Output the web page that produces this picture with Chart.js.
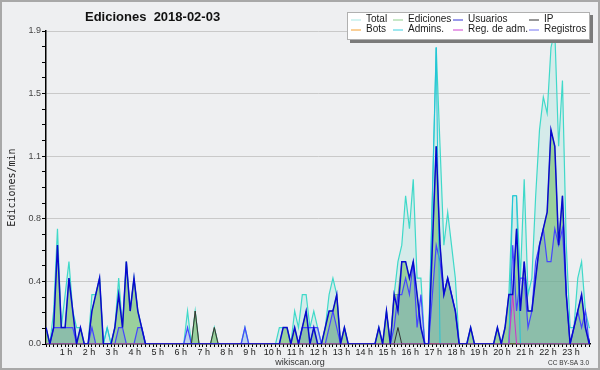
<!DOCTYPE html>
<html lang="es">
<head>
  <meta charset="UTF-8" />
  <title>Ediciones 2018-02-03</title>
  <script src="https://cdn.jsdelivr.net/npm/chart.js"></script>
  <style>
    html, body { margin: 0; padding: 0; background: #eeeff1; }
    #wrap { width: 600px; height: 370px; }
  </style>
</head>
<body>
  <div id="wrap"><canvas id="editsChart" width="600" height="370"></canvas></div>

  <script>
// one value every 10 minutes, 144 per day (edits per minute)
const hourLabels = ['1 h','2 h','3 h','4 h','5 h','6 h','7 h','8 h','9 h','10 h','11 h','12 h',
  '13 h','14 h','15 h','16 h','17 h','18 h','19 h','20 h','21 h','22 h','23 h'];

const totalVals = [
  0.1,0,0.2,0.7,0.1,0.3,   0.5,0.2,0.1,0.1,0,0,     0.3,0.3,0.4,0,0.1,0,     0.1,0.4,0.1,0.5,0.2,0.4,
  0.2,0.1,0,0,0,0,         0,0,0,0,0,0,             0,0.2,0,0.2,0,0,         0,0,0.1,0,0,0,
  0,0,0,0,0.1,0,           0,0,0,0,0,0,             0,0.1,0.1,0.1,0,0.2,     0.1,0.3,0.3,0.1,0.2,0.1,
  0,0.1,0.3,0.4,0.3,0,     0.1,0,0,0,0,0,           0,0,0,0.1,0,0.2,         0,0.3,0.5,0.6,0.9,0.7,
  1.0,0.4,0.4,0,0,0.9,     1.8,1.2,0.6,0.8,0.6,0.4, 0,0,0,0.1,0,0,           0,0,0,0,0.1,0,
  0.1,0.3,0.9,0.9,0.4,1.0, 0.3,0.4,0.9,1.3,1.5,1.4, 1.8,1.9,1.2,1.6,0.6,0.1, 0.1,0.4,0.5,0.2,0.1,0.1
];
const edicionesVals = [
  0.1,0,0.1,0.6,0.1,0.1,   0.4,0.2,0,0.1,0,0,       0.2,0.3,0.4,0,0,0,       0.1,0.3,0.1,0.5,0.2,0.4,
  0.2,0.1,0,0,0,0,         0,0,0,0,0,0,             0,0,0,0.2,0,0,           0,0,0.1,0,0,0,
  0,0,0,0,0,0,             0,0,0,0,0,0,             0,0,0.1,0.1,0,0.1,       0,0.1,0.2,0,0.1,0,
  0,0.1,0.2,0.2,0.3,0,     0.1,0,0,0,0,0,           0,0,0,0.1,0,0.2,         0,0.3,0.3,0.5,0.5,0.4,
  0.5,0.3,0.1,0,0,0.6,     1.2,0.6,0.3,0.4,0.3,0.2, 0,0,0,0.1,0,0,           0,0,0,0,0.1,0,
  0.1,0.3,0.3,0.7,0.2,0.5, 0.2,0.2,0.4,0.6,0.7,0.8, 1.3,1.2,0.6,0.9,0.3,0,   0.1,0.2,0.3,0.1,0,0.1
];
const usuariosVals = [
  0.1,0,0.1,0.6,0.1,0.1,   0.4,0.2,0,0.1,0,0,       0.2,0.3,0.4,0,0,0,       0.1,0.3,0.1,0.5,0.2,0.4,
  0.2,0.1,0,0,0,0,         0,0,0,0,0,0,             0,0,0,0,0,0,             0,0,0,0,0,0,
  0,0,0,0,0,0,             0,0,0,0,0,0,             0,0,0.1,0.1,0,0.1,       0,0.1,0.2,0,0.1,0,
  0,0.1,0.2,0.2,0.3,0,     0.1,0,0,0,0,0,           0,0,0,0.1,0,0.2,         0,0.3,0.2,0.5,0.5,0.4,
  0.5,0.3,0.1,0,0,0.6,     1.2,0.6,0.3,0.4,0.3,0.2, 0,0,0,0.1,0,0,           0,0,0,0,0.1,0,
  0.1,0.3,0.3,0.7,0.2,0.5, 0.2,0.2,0.4,0.6,0.7,0.8, 1.3,1.2,0.6,0.9,0.3,0,   0.1,0.2,0.3,0.1,0,0.1
];
const ipVals = [
  0,0,0,0,0,0, 0,0,0,0,0,0, 0,0,0,0,0,0, 0,0,0,0,0,0,
  0,0,0,0,0,0, 0,0,0,0,0,0, 0,0,0,0.2,0,0, 0,0,0.1,0,0,0,
  0,0,0,0,0,0, 0,0,0,0,0,0, 0,0,0,0,0,0, 0,0,0,0,0,0,
  0,0,0,0,0,0, 0,0,0,0,0,0, 0,0,0,0,0,0, 0,0,0.1,0,0,0,
  0,0,0,0,0,0, 0,0,0,0,0,0, 0,0,0,0,0,0, 0,0,0,0,0,0,
  0,0,0,0,0,0, 0,0,0,0,0,0, 0,0,0,0,0,0, 0,0,0,0,0,0
];
const botsVals = [
  0,0,0,0,0,0, 0,0,0,0,0,0, 0,0,0,0,0,0, 0,0,0,0,0,0,
  0,0,0,0,0,0, 0,0,0,0,0,0, 0,0,0,0,0,0, 0,0,0,0,0,0,
  0,0,0,0,0,0, 0,0,0,0,0,0, 0,0,0,0,0,0, 0,0,0,0,0,0,
  0,0,0,0,0,0, 0,0,0,0,0,0, 0,0,0,0,0,0, 0,0,0,0,0,0,
  0,0,0,0,0,0, 0,0,0,0,0,0, 0,0,0,0,0,0, 0,0,0,0,0,0,
  0,0,0,0,0,0, 0,0,0,0,0,0, 0,0,0,0,0,0, 0,0,0,0,0,0
];
const adminsVals = [
  0,0,0,0,0,0, 0,0,0,0,0,0, 0,0,0,0,0.1,0, 0,0,0,0,0,0,
  0,0,0,0,0,0, 0,0,0,0,0,0, 0,0,0,0,0,0, 0,0,0,0,0,0,
  0,0,0,0,0,0, 0,0,0,0,0,0, 0,0,0,0,0,0, 0,0,0,0,0,0,
  0,0,0,0,0,0, 0,0,0,0,0,0, 0,0,0,0,0,0, 0,0,0,0,0,0,
  0,0,0,0,0,0.9, 1.8,0,0,0,0,0, 0,0,0,0,0,0, 0,0,0,0,0,0,
  0,0,0.9,0.9,0,0, 0,0,0,0,0,0, 0,0,0,0,0,0, 0,0,0,0,0,0
];
const regAdmVals = [
  0,0,0,0,0,0, 0,0,0,0,0,0, 0,0,0,0,0,0, 0,0,0,0,0,0,
  0,0,0,0,0,0, 0,0,0,0,0,0, 0,0,0,0,0,0, 0,0,0,0,0,0,
  0,0,0,0,0,0, 0,0,0,0,0,0, 0,0,0,0,0,0, 0,0,0,0,0,0,
  0,0,0,0,0,0, 0,0,0,0,0,0, 0,0,0,0,0,0, 0,0,0,0,0,0,
  0,0,0,0,0,0, 0,0,0,0,0,0, 0,0,0,0,0,0, 0,0,0,0,0,0,
  0,0,0.3,0,0,0, 0,0,0,0,0,0, 0,0,0,0,0,0, 0,0,0,0,0,0
];
const registrosVals = [
  0,0,0.1,0.1,0.1,0.1,     0.1,0.1,0,0,0,0,         0.1,0,0,0,0,0,           0,0.1,0.1,0,0,0,
  0.1,0.1,0,0,0,0,         0,0,0,0,0,0,             0,0.1,0,0,0,0,           0,0,0,0,0,0,
  0,0,0,0,0.1,0,           0,0,0,0,0,0,             0,0,0,0,0,0,             0,0.1,0.1,0.1,0.1,0.1,
  0,0,0.1,0.2,0.1,0,       0,0,0,0,0,0,             0,0,0,0,0,0,             0,0.1,0.3,0.3,0.4,0.3,
  0.5,0.1,0.3,0,0,0.3,     0.6,0.5,0.3,0.4,0.3,0.2, 0,0,0,0,0,0,             0,0,0,0,0,0,
  0,0,0.6,0.2,0.4,0.4,     0.1,0.2,0.5,0.6,0.7,0.5, 0.5,0.7,0.6,0.7,0.3,0,   0.1,0.2,0.1,0.2,0,0
];

const yMax = 1.9;
const yTickStep = 0.095;   // 4 minor steps between labelled ticks

function pts(vals) {
  return vals.map((v, i) => ({ x: i, y: v }));
}

const legendOrder = ['Total', 'Ediciones', 'Usuarios', 'IP', 'Bots', 'Admins.', 'Reg. de adm.', 'Registros'];
const legendColors = {
  'Total': '#a8e8e4',
  'Ediciones': '#8fd08f',
  'Usuarios': '#3535d5',
  'IP': '#333333',
  'Bots': '#f5a030',
  'Admins.': '#3cd0e0',
  'Reg. de adm.': '#d040d0',
  'Registros': '#7474f4'
};

// background, frame, title, legend and footer texts
const decor = {
  id: 'decor',
  beforeDraw(chart) {
    const c = chart.ctx;
    c.save();
    c.fillStyle = '#eeeff1';
    c.fillRect(0, 0, chart.width, chart.height);
    c.restore();
  },
  afterDraw(chart) {
    const c = chart.ctx;
    c.save();
    c.strokeStyle = '#a8a8a8';
    c.lineWidth = 2;
    c.strokeRect(1, 1, chart.width - 2, chart.height - 2);

    c.fillStyle = '#111';
    c.font = 'bold 13px "Liberation Sans", Arial, sans-serif';
    c.textAlign = 'left';
    c.textBaseline = 'alphabetic';
    c.fillText('Ediciones  2018-02-03', 85, 21);

    // legend box with shadow
    c.fillStyle = '#7a7a7a';
    c.fillRect(350, 15, 243, 28);
    c.fillStyle = '#ffffff';
    c.fillRect(347, 12, 243, 28);
    c.strokeStyle = '#b0b0b0';
    c.lineWidth = 1;
    c.strokeRect(347.5, 12.5, 242, 27);

    const colX = [351, 393, 453, 529];
    const rowY = [19.5, 29.5];
    c.font = '10px "Liberation Sans", Arial, sans-serif';
    c.textBaseline = 'middle';
    legendOrder.forEach((name, k) => {
      const col = k % 4, row = Math.floor(k / 4);
      const x = colX[col], y = rowY[row];
      c.strokeStyle = legendColors[name];
      c.lineWidth = 1;
      c.beginPath();
      c.moveTo(x, y + 0.5);
      c.lineTo(x + 10, y + 0.5);
      c.stroke();
      c.fillStyle = '#1a1a1a';
      c.fillText(name, x + 15, y);
    });

    c.fillStyle = '#333';
    c.font = '9px "Liberation Sans", Arial, sans-serif';
    c.textAlign = 'center';
    c.textBaseline = 'alphabetic';
    c.fillText('wikiscan.org', 300, 365);
    c.font = '6.5px "Liberation Sans", Arial, sans-serif';
    c.textAlign = 'right';
    c.fillText('CC BY-SA 3.0', 589, 365);
    c.restore();
  }
};

const ctx = document.getElementById('editsChart').getContext('2d');
new Chart(ctx, {
  type: 'line',
  data: {
    datasets: [
      { label: 'Usuarios', data: pts(usuariosVals), borderColor: '#0808d0', borderWidth: 1.5, fill: false, order: 2 },
      { label: 'Reg. de adm.', data: pts(regAdmVals), borderColor: '#cc33cc', borderWidth: 1, fill: false, order: 3 },
      { label: 'IP', data: pts(ipVals), borderColor: '#333333', borderWidth: 1, fill: false, order: 4 },
      { label: 'Admins.', data: pts(adminsVals), borderColor: '#22c4d8', borderWidth: 1, fill: false, order: 5 },
      { label: 'Bots', data: pts(botsVals), borderColor: '#f5a030', borderWidth: 1, fill: false, order: 6 },
      { label: 'Registros', data: pts(registrosVals), borderColor: '#4646ff', borderWidth: 1.2,
        backgroundColor: 'rgba(80,110,235,0.18)', fill: 'origin', order: 7 },
      { label: 'Ediciones', data: pts(edicionesVals), borderColor: '#78bc78', borderWidth: 1,
        backgroundColor: 'rgba(118,192,110,0.62)', fill: 'origin', order: 8 },
      { label: 'Total', data: pts(totalVals), borderColor: '#3fd9c9', borderWidth: 1.2,
        backgroundColor: 'rgba(64,210,190,0.14)', fill: 'origin', order: 9 }
    ]
  },
  options: {
    responsive: false,
    animation: false,
    layout: { padding: { left: 0, right: 10, top: 31, bottom: 0 } },
    elements: { point: { radius: 0 }, line: { tension: 0 } },
    plugins: { legend: { display: false }, tooltip: { enabled: false }, title: { display: false } },
    scales: {
      x: {
        type: 'linear',
        min: 0,
        max: 142.2,
        z: 1,
        afterBuildTicks(scale) {
          const t = [];
          for (let k = 0; k <= 142; k++) t.push({ value: k });
          scale.ticks = t;
        },
        afterFit(scale) { scale.height = 26; },
        ticks: {
          autoSkip: false,
          maxRotation: 0,
          padding: 0,
          labelOffset: -3,
          color: '#222',
          font: { family: '"Liberation Sans", Arial, sans-serif', size: 9 },
          callback: (v) => (v % 6 === 0 && v > 0) ? hourLabels[v / 6 - 1] : ''
        },
        grid: { drawOnChartArea: false, drawTicks: true, tickLength: 3, tickColor: '#000' },
        border: { color: '#000', width: 1.5 }
      },
      y: {
        min: 0,
        max: yMax,
        afterBuildTicks(scale) {
          const t = [];
          for (let k = 0; k <= 20; k++) t.push({ value: +(k * yTickStep).toFixed(3) });
          scale.ticks = t;
        },
        afterFit(scale) { scale.width = 46; },
        ticks: {
          autoSkip: false,
          padding: 1,
          color: '#444',
          font: { family: '"Liberation Sans", Arial, sans-serif', size: 9 },
          callback: (v, i) => (i % 4 === 0) ? v.toFixed(1) : ''
        },
        grid: {
          color: (c) => (c.index % 4 === 0 && c.index > 0) ? '#c9c9c9' : 'rgba(0,0,0,0)',
          tickColor: '#000',
          tickLength: 4
        },
        border: { color: '#000', width: 1.5 },
        title: {
          display: true,
          text: 'Ediciones/min',
          color: '#222',
          font: { family: '"DejaVu Sans Mono", monospace', size: 10 },
          padding: { top: 6, bottom: 0 }
        }
      }
    }
  },
  plugins: [decor]
});
  </script>
</body>
</html>
